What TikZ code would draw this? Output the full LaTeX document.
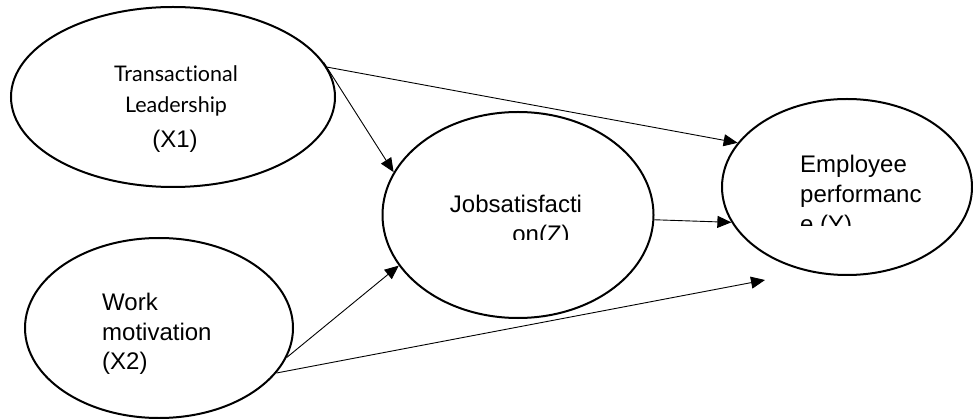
\documentclass[tikz,border=0pt]{standalone}
\usepackage{fontspec}
\setmainfont{Liberation Sans}
\newfontfamily\latofont[Ligatures={NoCommon,NoRare,NoDiscretionary}]{Lato}
\usetikzlibrary{shapes.geometric,arrows.meta}
\tikzset{
  construct/.style={ellipse, draw, line width=2pt, inner sep=0pt},
  path arrow/.style={line width=0.9pt, -{Triangle[length=14pt,width=12pt]}},
  label text/.style={inner sep=0pt, font=\fontsize{24}{29}\selectfont},
  small text/.style={inner sep=0pt, font=\latofont\fontsize{21.5}{26}\selectfont}
}
\begin{document}
\begin{tikzpicture}[x=1pt,y=-1pt]
  \useasboundingbox (0,0) rectangle (973,419);

  % latent constructs
  \node[construct, minimum width=324pt, minimum height=180pt] (x1) at (173,97) {};
  \node[construct, minimum width=271pt, minimum height=206pt] (z)  at (518,215) {};
  \node[construct, minimum width=250pt, minimum height=176pt] (y)  at (847,187) {};
  \node[construct, minimum width=268pt, minimum height=180pt] (x2) at (159,328) {};

  % construct labels
  \node[small text, anchor=base] (x1a) at (176,82) {Transactional};
  \node[small text, anchor=base] (x1b) at (176,113) {Leadership};
  \node[label text, anchor=base] (x1c) at (175,148) {(X1)};

  \node[label text, anchor=base west] (x2a) at (102,310) {Work};
  \node[label text, anchor=base west] (x2b) at (102,340) {motivation};
  \node[label text, anchor=base west] (x2c) at (102,369) {(X2)};

  \begin{scope}
    \clip (430,180) rectangle (620,240);
    \node[label text, anchor=base] (za) at (516,213) {Jobsatisfacti};
    \node[label text, anchor=base] (zb) at (541,243) {on(Z)};
  \end{scope}

  \begin{scope}
    \clip (780,140) rectangle (950,226);
    \node[label text, anchor=base west] (ya) at (800,173) {Employee};
    \node[label text, anchor=base west] (yb) at (800,203) {performanc};
    \node[label text, anchor=base west] (yc) at (800,233) {e (Y)};
  \end{scope}

  % free end of the last path
  \coordinate (yend) at (765,280);

  % structural paths
  \draw[path arrow] (x1.13) -- (z.161);
  \draw[path arrow] (x1.11) -- (y.158);
  \draw[path arrow] (z.-2) -- (y.-163);
  \draw[path arrow] (x2.-13) -- (z.-157);
  \draw[path arrow] (x2.-21) -- (yend);
\end{tikzpicture}
\end{document}
